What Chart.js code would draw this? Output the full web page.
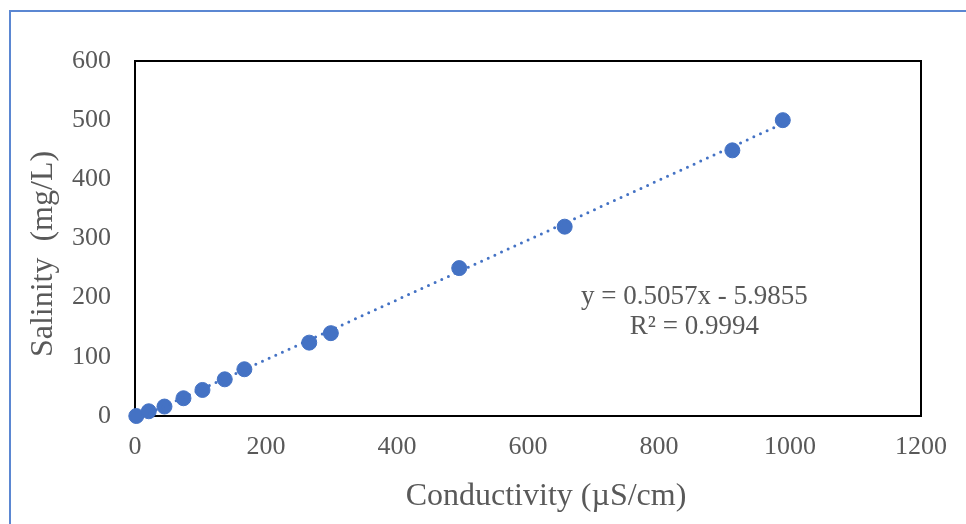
<!DOCTYPE html>
<html>
<head>
<meta charset="utf-8">
<script src="https://cdn.jsdelivr.net/npm/chart.js@4/dist/chart.umd.min.js"></script>
<style>
    html, body { margin: 0; padding: 0; background: #fff; }
    #wrap { position: relative; width: 966px; height: 524px; overflow: hidden; }
    #frame {
        position: absolute; left: 9px; top: 10px; width: 1000px; height: 600px;
        border-left: 2px solid #5b87d2; border-top: 2px solid #5b87d2;
    }
    canvas { position: absolute; left: 0; top: 0; }
</style>
</head>
<body>
<div id="wrap">
    <div id="frame"></div>
    <canvas id="salinityChart" width="966" height="524"></canvas>
</div>
<script>
// values
const conductivity = [2, 21, 45, 74, 103, 137, 167, 266, 299, 495, 656, 912, 989];
const salinity = [0, 8, 16, 30, 44, 62, 79, 124, 140, 250, 320, 449, 500];

// trendline as printed on the chart
const slope = 0.5057;
const intercept = -5.9855;
const equationLines = ['y = 0.5057x - 5.9855', 'R\u00b2 = 0.9994'];

const xTicks = [0, 200, 400, 600, 800, 1000, 1200];
const yTicks = [0, 100, 200, 300, 400, 500, 600];

const xTitle = 'Conductivity (\u00b5S/cm)';
const yTitle = 'Salinity  (mg/L)';

const serif = "'Liberation Serif', 'Times New Roman', serif";
const grey = '#595959';
const blue = '#4472C4';

// trend from the first to the last conductivity reading
const xMin = Math.min(...conductivity);
const xMax = Math.max(...conductivity);
const trendPoints = [xMin, xMax].map(x => ({ x: x, y: slope * x + intercept }));

const plotBorder = {
    id: 'plotBorder',
    beforeDatasetsDraw(chart) {
        const a = chart.chartArea;
        const c = chart.ctx;
        c.save();
        c.strokeStyle = '#000';
        c.lineWidth = 2;
        c.strokeRect(a.left, a.top, a.right - a.left, a.bottom - a.top);
        c.restore();
    },
    afterDraw(chart) {
        const { ctx: c, scales } = chart;
        c.save();
        c.fillStyle = grey;
        c.textAlign = 'center';
        c.textBaseline = 'middle';

        // equation label, placed in data units
        c.font = '27px ' + serif;
        const ex = scales.x.getPixelForValue(854);
        c.fillText(equationLines[0], ex, scales.y.getPixelForValue(201));
        c.fillText(equationLines[1], ex, scales.y.getPixelForValue(150));

        // axis titles (Excel puts them a bit off centre)
        c.font = '32px ' + serif;
        c.fillText(xTitle, 546, 497);
        c.translate(44, 254);
        c.rotate(-Math.PI / 2);
        c.fillText(yTitle, 0, 0);
        c.restore();
    }
};

const ctx = document.getElementById('salinityChart').getContext('2d');
new Chart(ctx, {
    type: 'scatter',
    data: {
        datasets: [{
            label: 'Salinity',
            data: conductivity.map((c, i) => ({ x: c, y: salinity[i] })),
            backgroundColor: blue,
            borderColor: blue,
            pointRadius: 7.5,
            pointHoverRadius: 7.5,
            clip: false,
            order: 2
        }, {
            label: 'Linear trend',
            type: 'line',
            data: trendPoints,
            borderColor: blue,
            borderWidth: 3,
            borderDash: [0, 7.3],
            borderCapStyle: 'round',
            pointRadius: 0,
            fill: false,
            order: 1
        }]
    },
    options: {
        responsive: false,
        animation: false,
        events: [],
        layout: { padding: { left: 0, top: 61, right: 45, bottom: 0 } },
        plugins: {
            legend: { display: false },
            tooltip: { enabled: false }
        },
        scales: {
            x: {
                type: 'linear',
                min: 0,
                max: 1200,
                afterBuildTicks: s => { s.ticks = xTicks.map(v => ({ value: v })); },
                afterFit: s => { s.height = 108; },
                grid: { display: false, drawTicks: false },
                border: { display: false },
                ticks: {
                    color: grey,
                    font: { family: serif, size: 26 },
                    padding: 16,
                    maxRotation: 0,
                    callback: v => String(v)
                }
            },
            y: {
                type: 'linear',
                min: 0,
                max: 600,
                afterBuildTicks: s => { s.ticks = yTicks.map(v => ({ value: v })); },
                afterFit: s => { s.width = 135; },
                grid: { display: false, drawTicks: false },
                border: { display: false },
                ticks: {
                    color: grey,
                    font: { family: serif, size: 26 },
                    padding: 24,
                    callback: v => String(v)
                }
            }
        }
    },
    plugins: [plotBorder]
});
</script>
</body>
</html>
